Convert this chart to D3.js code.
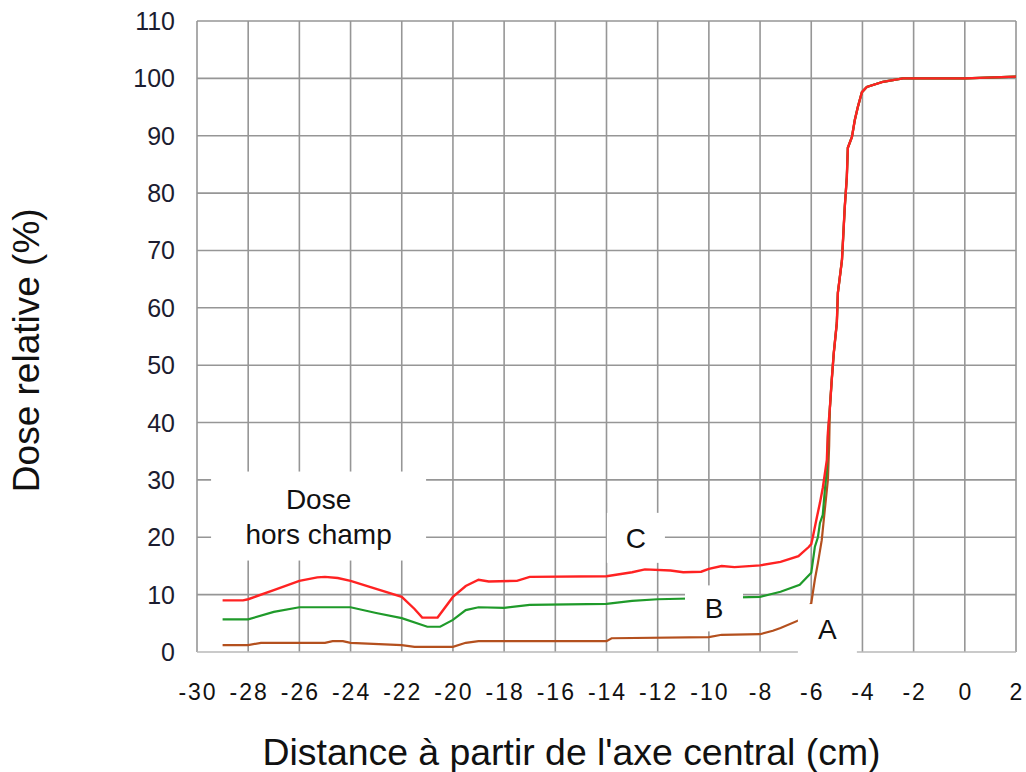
<!DOCTYPE html>
<html>
<head>
<meta charset="utf-8">
<script src="https://cdn.jsdelivr.net/npm/d3@7/dist/d3.min.js"></script>
<style>
  body { margin: 0; background: #fff; }
  text { font-family: "Liberation Sans", Arial, sans-serif; fill: #111; }
</style>
</head>
<body>
<div id="chart"></div>
<script>
var xTicks = d3.range(-30, 3, 2)
var yTicks = d3.range(0, 111, 10)

// courbe commune au-dessus de ~35 %
var doseTop = [[-5.27,42.7],[-5.2,47.4],[-5.12,52.1],[-5.0,57.4],[-4.96,62.6],[-4.8,68.3],[-4.69,77.6],[-4.61,82.8],[-4.57,87.9],[-4.41,89.8],[-4.3,92.7],[-4.18,95],[-4.02,97.6],[-3.83,98.5],[-3.2,99.4],[-2.42,100],[0,100],[2,100.3]]

var doseC = [[-29,9.0],[-28.2,9.0],[-28,9.2],[-27,10.8],[-26,12.4],[-25.3,13.0],[-25,13.1],[-24.5,12.9],[-24,12.4],[-23,11.0],[-22,9.6],[-21.5,7.5],[-21.2,6.0],[-20.6,6.0],[-20,9.6],[-19.5,11.5],[-19,12.6],[-18.6,12.3],[-17.5,12.4],[-17,13.1],[-14,13.2],[-13,13.9],[-12.5,14.4],[-11.5,14.2],[-11,13.9],[-10.3,14.0],[-10,14.5],[-9.5,15.0],[-9,14.8],[-8,15.1],[-7.2,15.7],[-6.5,16.7],[-6.1,18.3],[-6.0,18.8],[-5.94,20],[-5.78,23.5],[-5.66,26],[-5.55,28.6],[-5.39,33.5],[-5.35,38.2]]

var doseB = [[-29,5.7],[-28,5.7],[-27,7.0],[-26,7.8],[-24,7.8],[-23,6.8],[-22,5.9],[-21,4.4],[-20.5,4.4],[-20,5.6],[-19.5,7.3],[-19,7.8],[-18,7.7],[-17,8.2],[-14,8.4],[-13,8.9],[-12,9.2],[-8,9.6],[-7.2,10.5],[-6.45,11.7],[-6.0,13.8],[-5.86,18.3],[-5.74,20],[-5.66,22.5],[-5.55,23.9],[-5.47,28.2],[-5.39,31.7],[-5.35,37.5]]

var doseA = [[-29,1.2],[-28,1.2],[-27.5,1.6],[-25,1.6],[-24.7,1.9],[-24.3,1.9],[-24,1.6],[-22,1.2],[-21.5,0.9],[-20,0.9],[-19.5,1.6],[-19,1.9],[-14,1.9],[-13.8,2.4],[-10,2.6],[-9.5,3.0],[-8,3.1],[-7.5,3.7],[-7.2,4.2],[-6.5,5.5],[-6.0,8.5],[-5.86,12.6],[-5.74,15.5],[-5.59,19.5],[-5.47,24.8],[-5.35,30],[-5.3,36]]

var series = [
  {name: "A", color: "#b4501e", values: doseA.concat(doseTop)},
  {name: "B", color: "#1f9a2a", values: doseB.concat(doseTop)},
  {name: "C", color: "#ff2222", values: doseC.concat(doseTop)}
]

// étiquettes : position (x, y en données), taille de la boîte en px
var labels = [
  {lines: ["Dose", "hors champ"], x: -25.25, y: 23.7, w: 215, h: 89},
  {lines: ["C"], x: -12.85, y: 19.9, w: 58, h: 50},
  {lines: ["B"], x: -9.8, y: 7.6, w: 58, h: 46},
  {lines: ["A"], x: -5.37, y: 4.0, w: 59, h: 50}
]

var margin = {top: 21, right: 10, bottom: 120, left: 197},
    width = 1016 - margin.left,
    height = 652 - margin.top

var svg = d3.select("#chart")
  .append("svg")
    .attr("width", 1026)
    .attr("height", 772)
  .append("g")
    .attr("transform", "translate(" + margin.left + "," + margin.top + ")")

var x = d3.scaleLinear().domain([-30, 2]).range([0, width])
var y = d3.scaleLinear().domain([0, 110]).range([height, 0])

// grille
svg.selectAll(".vgrid")
  .data(xTicks)
  .enter()
  .append("line")
    .attr("x1", function(d) { return x(d) })
    .attr("x2", function(d) { return x(d) })
    .attr("y1", 0)
    .attr("y2", height)
    .style("stroke", "#969696")
    .style("stroke-width", 1.6)

svg.selectAll(".hgrid")
  .data(yTicks)
  .enter()
  .append("line")
    .attr("x1", 0)
    .attr("x2", width)
    .attr("y1", function(d) { return y(d) })
    .attr("y2", function(d) { return y(d) })
    .style("stroke", function(d) { return d == 0 ? "#b8b8b8" : "#969696" })
    .style("stroke-width", 1.6)

// graduations
svg.selectAll(".ylab")
  .data(yTicks)
  .enter()
  .append("text")
    .attr("x", -22)
    .attr("y", function(d) { return y(d) + 9 })
    .attr("text-anchor", "end")
    .style("font-size", "25px")
    .style("fill", "#1c1c30")
    .text(function(d) { return d })

svg.selectAll(".xlab")
  .data(xTicks)
  .enter()
  .append("text")
    .attr("x", function(d) { return x(d) + 1 })
    .attr("y", height + 48)
    .attr("text-anchor", "middle")
    .style("font-size", "23px")
    .style("letter-spacing", "2px")
    .text(function(d) { return d })

// courbes
var line = d3.line()
  .x(function(d) { return x(d[0]) })
  .y(function(d) { return y(d[1]) })

svg.selectAll(".curve")
  .data(series)
  .enter()
  .append("path")
    .attr("d", function(d) { return line(d.values) })
    .style("fill", "none")
    .style("stroke", function(d) { return d.color })
    .style("stroke-width", function(d) { return d.name == "C" ? 2.4 : 2.2 })

// boîtes blanches
var lab = svg.selectAll(".lab")
  .data(labels)
  .enter()
  .append("g")
    .attr("transform", function(d) { return "translate(" + x(d.x) + "," + y(d.y) + ")" })

lab.append("rect")
  .attr("x", function(d) { return -d.w / 2 })
  .attr("y", function(d) { return -d.h / 2 })
  .attr("width", function(d) { return d.w })
  .attr("height", function(d) { return d.h })
  .style("fill", "#fff")

lab.each(function(d) {
  var g = d3.select(this)
  var n = d.lines.length
  d.lines.forEach(function(t, i) {
    g.append("text")
      .attr("x", 0)
      .attr("y", (i - (n - 1) / 2) * 35 + 10)
      .attr("text-anchor", "middle")
      .style("font-size", "28px")
      .text(t)
  })
})

// titres
svg.append("text")
  .attr("x", width / 2 - 35)
  .attr("y", height + 113)
  .attr("text-anchor", "middle")
  .style("font-size", "37px")
  .attr("textLength", 618)
  .attr("lengthAdjust", "spacingAndGlyphs")
  .text("Distance à partir de l'axe central (cm)")

svg.append("text")
  .attr("transform", "translate(" + (-158) + "," + (y(52.6)) + ") rotate(-90)")
  .attr("text-anchor", "middle")
  .style("font-size", "37px")
  .text("Dose relative (%)")
</script>
</body>
</html>
